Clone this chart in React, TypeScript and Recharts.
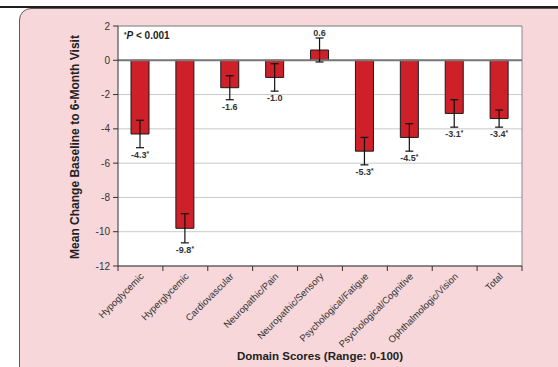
import React from "react";
import {
  Bar,
  BarChart,
  CartesianGrid,
  ErrorBar,
  LabelList,
  ReferenceLine,
  XAxis,
  YAxis,
} from "recharts";

const domains = [
  "Hypoglycemic",
  "Hyperglycemic",
  "Cardiovascular",
  "Neuropathic/Pain",
  "Neuropathic/Sensory",
  "Psychological/Fatigue",
  "Psychological/Cognitive",
  "Ophthalmologic/Vision",
  "Total",
];
const meanChange = [-4.3, -9.8, -1.6, -1.0, 0.6, -5.3, -4.5, -3.1, -3.4];
const errorSize = [0.8, 0.85, 0.7, 0.8, 0.7, 0.8, 0.8, 0.8, 0.5];
const significant = [true, true, false, false, false, true, true, true, true];
const yTicks = [2, 0, -2, -4, -6, -8, -10, -12];

const data = domains.map((name, i) => ({
  name,
  mean: meanChange[i],
  err: errorSize[i],
}));

const W = 558;
const H = 367;
const margin = { top: 26, right: 36, bottom: 8, left: 0 };
const yAxisWidth = 118;
const plotWidth = W - margin.left - margin.right - yAxisWidth;
const band = plotWidth / domains.length;

const font = "'Liberation Sans', Arial, Helvetica, sans-serif";
const ink = "#333";

function DomainTick(props: any) {
  const { x, y, payload, index } = props;
  const isLast = index === domains.length - 1;
  const tx = x + 4;
  const ty = y + 11;
  return (
    <g>
      <line x1={x - band / 2} x2={x - band / 2} y1={y} y2={y + 5} stroke={ink} />
      {isLast && <line x1={x + band / 2} x2={x + band / 2} y1={y} y2={y + 5} stroke={ink} />}
      <text
        x={tx}
        y={ty}
        transform={`rotate(-45, ${tx}, ${ty})`}
        textAnchor="end"
        fontSize={9.5}
        fill={ink}
        fontFamily={font}
      >
        {payload.value}
      </text>
    </g>
  );
}

function ValueLabel(props: any) {
  const { x, y, width, height, value, index } = props;
  if (value == null || !height) return null;
  const top = Math.min(y, y + height);
  const bottom = Math.max(y, y + height);
  const ppu = Math.abs(height) / Math.abs(value);
  const err = errorSize[index];
  const cx = x + width / 2;
  let ty;
  if (value < 0) ty = top + (Math.abs(value) + err) * ppu + 10;
  else ty = bottom - (value + err) * ppu - 2;
  return (
    <text x={cx} y={ty} textAnchor="middle" fontSize={9} fontWeight="bold" fill={ink} fontFamily={font}>
      {value.toFixed(1)}
      {significant[index] && (
        <tspan fontSize={6.5} dy={-2}>
          *
        </tspan>
      )}
    </text>
  );
}

export default function App() {
  return (
    <div style={{ position: "absolute", left: 0, top: 0, width: W, height: H, overflow: "hidden" }}>
      <div style={{ position: "absolute", left: 0, top: 6, width: W, height: 2, background: "#1e1e1e" }} />
      <div
        style={{
          position: "absolute",
          left: 19,
          top: 8,
          width: 600,
          height: 420,
          boxSizing: "border-box",
          border: "1px solid #5c5c5c",
          borderRadius: 12,
          background: "#f7d7d9",
        }}
      />
      <div style={{ position: "absolute", left: 0, top: 0 }}>
        <BarChart width={W} height={H} data={data} margin={margin} barSize={18}>
          <CartesianGrid horizontal vertical={false} stroke="#c9c9c9" fill="#ffffff" />
          <CartesianGrid
            horizontal={false}
            vertical
            stroke="#8a8a8a"
            verticalCoordinatesGenerator={({ offset }: any) => [offset.left + offset.width]}
          />
          <XAxis
            dataKey="name"
            interval={0}
            height={93}
            tickLine={false}
            tickSize={0}
            tickMargin={0}
            axisLine={{ stroke: ink }}
            tick={<DomainTick />}
            label={{
              content: ({ viewBox }: any) => (
                <text
                  x={viewBox.x + viewBox.width / 2}
                  y={viewBox.y + 94}
                  textAnchor="middle"
                  fontSize={11.5}
                  fontWeight="bold"
                  fill="#222"
                  fontFamily={font}
                >
                  Domain Scores (Range: 0-100)
                </text>
              ),
            }}
          />
          <YAxis
            domain={[-12, 2]}
            ticks={yTicks}
            interval={0}
            width={yAxisWidth}
            tickSize={5}
            tickMargin={3}
            axisLine={{ stroke: ink }}
            tickLine={{ stroke: ink }}
            tick={{ fontSize: 10, fill: ink, fontFamily: font }}
            label={{
              content: ({ viewBox }: any) => {
                const lx = viewBox.x + 75;
                const ly = viewBox.y + viewBox.height / 2 + 1;
                return (
                  <text
                    x={lx}
                    y={ly}
                    transform={`rotate(-90, ${lx}, ${ly})`}
                    textAnchor="middle"
                    dominantBaseline="central"
                    fontSize={12}
                    fontWeight="bold"
                    fill="#222"
                    fontFamily={font}
                  >
                    Mean Change Baseline to 6-Month Visit
                  </text>
                );
              },
            }}
          />
          <ReferenceLine
            y={2}
            stroke="#8a8a8a"
            label={{
              content: ({ viewBox }: any) => (
                <text x={viewBox.x + 6} y={viewBox.y + 13} fontSize={10} fontWeight="bold" fill="#222" fontFamily={font}>
                  <tspan fontSize={6.5} dy={-2}>*</tspan>
                  <tspan fontStyle="italic" dy={2}>P</tspan>
                  <tspan> &lt; 0.001</tspan>
                </text>
              ),
            }}
          />
          <ReferenceLine y={0} stroke="#777" strokeWidth={2} />
          <Bar dataKey="mean" fill="#ce2029" stroke="#1a1a1a" strokeWidth={1} isAnimationActive={false}>
            <ErrorBar dataKey="err" width={4} stroke="#111" strokeWidth={1.2} direction="y" />
            <LabelList dataKey="mean" content={<ValueLabel />} />
          </Bar>
        </BarChart>
      </div>
    </div>
  );
}
